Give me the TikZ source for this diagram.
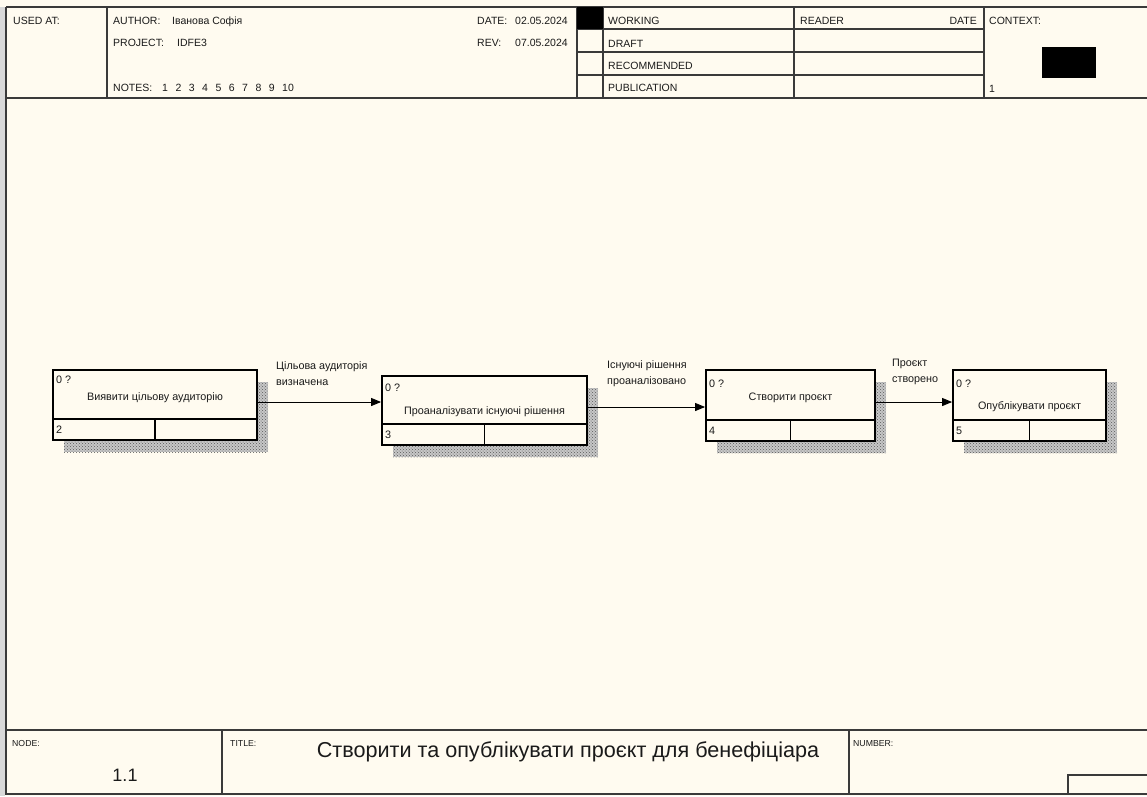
\documentclass[tikz,border=0pt]{standalone}
\usepackage{fontspec}
\setmainfont{Liberation Sans}
\usetikzlibrary{arrows.meta,patterns}
\definecolor{bgc}{HTML}{FFFBF0}
\definecolor{ln}{HTML}{3A3A3A}
\definecolor{txt}{HTML}{1A1A1A}
\newcommand\idefbox[9]{%
  \fill[black!22] ({#2+11},{#3+12}) rectangle ({#4+11},{#5+12});
  \fill[pattern=crosshatch dots, pattern color=black!65] ({#2+11},{#3+12}) rectangle ({#4+11},{#5+12});
  \node[procbox, minimum width={(#4-#2)*1pt}, minimum height={(#5-#3)*1pt}] (#1) at ({(#2+#4)/2},{(#3+#5)/2}) {};
  \draw[boxline] (#1.south west |- 0,{#5-21}) -- (#1.south east |- 0,{#5-21});
  \draw[boxline] ({(#2+#4)/2},{#5-21}) -- (#1.south);
  \node[boxtxt, anchor=west] at ({#2+3},{#9}) {0 ?};
  \node[boxtxt] at ({(#2+#4)/2},{#8}) {#6};
  \node[boxtxt, anchor=west] at ({#2+3},{#5-10}) {#7};
}
\begin{document}
\begin{tikzpicture}[x=1pt,y=-1pt,
  frame/.style={draw=ln, line width=1.3pt},
  procbox/.style={draw=black, line width=1.8pt, fill=bgc, inner sep=0pt},
  boxline/.style={draw=black, line width=1.8pt},
  boxtxt/.style={inner sep=0pt, text=txt, font=\fontsize{10.8}{12}\selectfont},
  hdr/.style={inner sep=0pt, anchor=base west, text=txt, font=\fontsize{10.5}{12}\selectfont},
  ftr/.style={inner sep=0pt, anchor=base west, text=txt, font=\fontsize{8.7}{10}\selectfont},
  flowlbl/.style={inner sep=0pt, anchor=north west, align=left, text=txt, font=\fontsize{10.8}{16}\selectfont},
  flow/.style={draw=black, line width=0.9pt, -{Triangle[length=10pt,width=8pt]}}
]
\useasboundingbox (0,0) rectangle (1147,796);
\fill[bgc] (0,0) rectangle (1147,796);
\fill[black!15] (0,7) rectangle (5,796);
% outer frame
\draw[frame] (6,7) -- (1147,7);
\draw[frame] (6,7) -- (6,794) -- (1147,794);
% header
\draw[frame] (6,98) -- (1147,98);
\foreach \xx in {107,577,603,794,984} \draw[frame] (\xx,7) -- (\xx,98);
\foreach \yy in {29,52,75} \draw[frame] (577,\yy) -- (984,\yy);
\fill[black] (577,7) rectangle (603,29);
\fill[black] (1042,47) rectangle (1096,78);
\node[hdr] (usedat) at (13,24) {USED AT:};
\node[hdr] (author) at (113,24) {AUTHOR:};
\node[hdr] (authorv) at (172,24) {Іванова Софія};
\node[hdr] (project) at (113,46) {PROJECT:};
\node[hdr] (projectv) at (177,46) {IDFE3};
\node[hdr] (notes) at (113,91) {NOTES:};
\node[hdr] (notesv) at (162,91) {1\hspace{7.5pt}2\hspace{7.5pt}3\hspace{7.5pt}4\hspace{7.5pt}5\hspace{7.5pt}6\hspace{7.5pt}7\hspace{7.5pt}8\hspace{7.5pt}9\hspace{7.5pt}10};
\node[hdr] (date) at (477,24) {DATE:};
\node[hdr] (datev) at (515,24) {02.05.2024};
\node[hdr] (rev) at (477,46) {REV:};
\node[hdr] (revv) at (515,46) {07.05.2024};
\node[hdr] (working) at (608,24) {WORKING};
\node[hdr] (draft) at (608,47) {DRAFT};
\node[hdr] (recom) at (608,69) {RECOMMENDED};
\node[hdr] (publ) at (608,91) {PUBLICATION};
\node[hdr] (reader) at (800,24) {READER};
\node[hdr, anchor=base east] (rdate) at (977,24) {DATE};
\node[hdr] (context) at (989,24) {CONTEXT:};
\node[hdr] (ctxnum) at (989,92) {1};
% footer
\draw[frame] (6,730) -- (1147,730);
\draw[frame] (222,730) -- (222,794);
\draw[frame] (849,730) -- (849,794);
\draw[frame] (1068,794) -- (1068,775) -- (1147,775);
\node[ftr] (nodel) at (12,746) {NODE:};
\node[ftr] (titlel) at (230,746) {TITLE:};
\node[ftr] (numl) at (853,746) {NUMBER:};
\node[inner sep=0pt, text=txt, font=\fontsize{18}{20}\selectfont] (nodenum) at (125,775) {1.1};
\node[inner sep=0pt, text=txt, font=\fontsize{21.6}{24}\selectfont] (title) at (568,752) {Створити та опублікувати проєкт для бенефіціара};
% boxes
\idefbox{b1}{53}{370}{257}{440}{Виявити цільову аудиторію}{2}{398}{380}
\idefbox{b2}{382}{376}{587}{445}{Проаналізувати існуючі рішення}{3}{412}{388}
\idefbox{b3}{706}{370}{875}{441}{Створити проєкт}{4}{398}{384}
\idefbox{b4}{953}{370}{1106}{441}{Опублікувати проєкт}{5}{407}{384}
% arrows
\coordinate (ya) at (0,402);
\coordinate (yb) at (0,407);
\draw[flow] (b1.east |- ya) -- (b2.west |- ya);
\draw[flow] (b2.east |- yb) -- (b3.west |- yb);
\draw[flow] (b3.east |- ya) -- (b4.west |- ya);
\node[flowlbl] (l1) at (276,361) {Цільова аудиторія\\визначена};
\node[flowlbl] (l2) at (607,360) {Існуючі рішення\\проаналізовано};
\node[flowlbl] (l3) at (892,359) {Проєкт\\створено};
\end{tikzpicture}
\end{document}
